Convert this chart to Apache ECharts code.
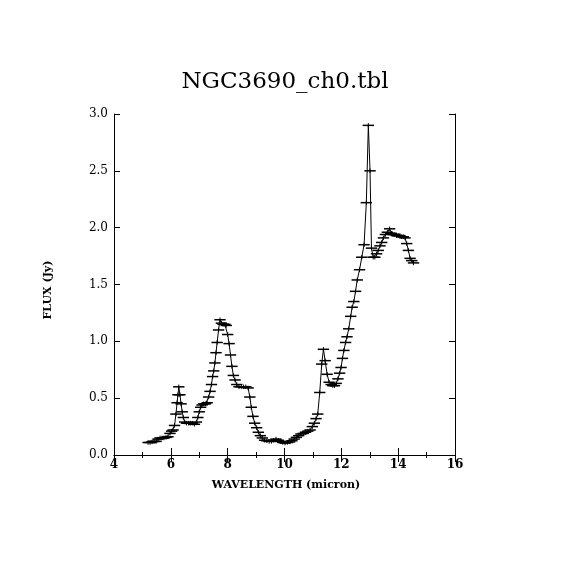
<!DOCTYPE html>
<html>
<head>
<meta charset="utf-8">
<script src="https://cdn.jsdelivr.net/npm/echarts@6/dist/echarts.min.js"></script>
<style>
html,body{margin:0;padding:0;background:#fff;}
#chart{width:570px;height:570px;}
</style>
</head>
<body>
<div id="chart"></div>
<script>
// ---- data ----
var titleText = "NGC3690_ch0.tbl";
var xAxisTitle = "WAVELENGTH (micron)";
var yAxisTitle = "FLUX (Jy)";
var wavelength = [
5.20,5.27,5.34,5.41,5.48,5.55,5.62,5.69,5.76,5.83,5.90,5.97,6.03,6.08,6.13,6.18,6.22,6.25,6.28,6.32,
6.36,6.40,6.44,6.49,6.55,6.62,6.69,6.76,6.83,6.90,6.95,7.00,7.05,7.10,7.16,7.22,7.28,7.33,7.38,7.43,
7.47,7.51,7.55,7.59,7.63,7.68,7.73,7.78,7.84,7.90,7.95,8.00,8.05,8.10,8.15,8.20,8.26,8.32,8.40,8.48,
8.56,8.64,8.72,8.78,8.83,8.89,8.95,9.02,9.08,9.15,9.22,9.30,9.38,9.46,9.54,9.62,9.70,9.78,9.86,9.94,
10.02,10.10,10.18,10.26,10.34,10.42,10.50,10.58,10.66,10.74,10.82,10.90,10.98,11.05,11.11,11.17,11.24,11.31,11.37,11.43,
11.50,11.57,11.64,11.70,11.76,11.82,11.88,11.94,11.99,12.04,12.09,12.15,12.20,12.26,12.33,12.38,12.44,12.50,12.56,12.64,
12.72,12.80,12.88,12.95,13.01,13.06,13.12,13.18,13.24,13.30,13.36,13.42,13.48,13.55,13.62,13.70,13.76,13.82,13.88,13.94,
14.00,14.06,14.12,14.18,14.24,14.30,14.36,14.42,14.48,14.54
];
var flux = [
0.11,0.11,0.115,0.12,0.12,0.14,0.15,0.15,0.15,0.155,0.16,0.19,0.21,0.22,0.26,0.36,0.46,0.53,0.60,0.53,
0.45,0.38,0.33,0.29,0.28,0.28,0.28,0.28,0.27,0.29,0.33,0.38,0.42,0.44,0.45,0.45,0.46,0.51,0.56,0.62,
0.69,0.74,0.81,0.90,0.99,1.10,1.19,1.16,1.15,1.15,1.14,1.06,0.98,0.88,0.78,0.70,0.66,0.62,0.60,0.60,
0.60,0.60,0.59,0.51,0.42,0.34,0.28,0.24,0.20,0.17,0.15,0.13,0.125,0.12,0.12,0.13,0.14,0.13,0.12,0.11,
0.105,0.11,0.115,0.125,0.14,0.155,0.17,0.185,0.19,0.20,0.21,0.22,0.25,0.28,0.32,0.36,0.55,0.80,0.93,0.83,
0.71,0.64,0.62,0.61,0.61,0.63,0.67,0.72,0.77,0.85,0.92,0.99,1.04,1.11,1.22,1.30,1.35,1.44,1.54,1.63,
1.74,1.85,2.22,2.90,2.50,1.82,1.74,1.74,1.77,1.80,1.84,1.87,1.91,1.94,1.96,1.99,1.95,1.94,1.94,1.93,
1.93,1.93,1.92,1.92,1.91,1.86,1.80,1.73,1.71,1.69
];
var binHalfWidth = 0.2;    // half width of the horizontal bars (micron)
var fluxErr = 0.02;        // vertical error (Jy)
var xTicks = [4,6,8,10,12,14,16];
var yTicks = [0.0,0.5,1.0,1.5,2.0,2.5,3.0];

// ---- chart ----
var pts = wavelength.map(function(w,i){ return [w, flux[i]]; });
var serif = "DejaVu Serif";
var chart = echarts.init(document.getElementById('chart'), null, {renderer:'canvas'});
var axisLine = {show:true, lineStyle:{color:'#000', width:1}};
var option = {
  backgroundColor:'#fff',
  animation:false,
  grid:{left:114, top:114, width:341, height:341, containLabel:false},
  graphic:[
    {type:'text', x:285, y:82, style:{text:titleText, font:'23px "DejaVu Serif"', fill:'#000', textAlign:'center', textVerticalAlign:'middle'}},
    {type:'text', x:286, y:485, style:{text:xAxisTitle, font:'bold 11px "DejaVu Serif"', fill:'#000', textAlign:'center', textVerticalAlign:'middle'}},
    {type:'text', x:48, y:290, rotation:Math.PI/2, style:{text:yAxisTitle, font:'bold 11px "DejaVu Serif"', fill:'#000', textAlign:'center', textVerticalAlign:'middle'}}
  ],
  xAxis:[
    {type:'value', min:xTicks[0], max:xTicks[xTicks.length-1], interval:2, position:'bottom',
     axisLine:axisLine,
     axisTick:{show:true, inside:true, length:7, lineStyle:{color:'#000'}},
     minorTick:{show:true, splitNumber:2, length:3, lineStyle:{color:'#000'}},
     splitLine:{show:false},
     axisLabel:{show:true, margin:4, color:'#000', fontFamily:serif, fontSize:12, fontWeight:'bold'}},
    {type:'value', min:xTicks[0], max:xTicks[xTicks.length-1], interval:2, position:'top',
     axisLine:axisLine,
     axisTick:{show:true, inside:true, length:7, lineStyle:{color:'#000'}},
     minorTick:{show:true, splitNumber:2, length:3, lineStyle:{color:'#000'}},
     splitLine:{show:false}, axisLabel:{show:false}}
  ],
  yAxis:[
    {type:'value', min:yTicks[0], max:yTicks[yTicks.length-1], interval:0.5, position:'left',
     axisLine:axisLine,
     axisTick:{show:true, inside:true, length:6, lineStyle:{color:'#000'}},
     splitLine:{show:false},
     axisLabel:{show:true, margin:6, color:'#000', fontFamily:serif, fontSize:12,
       formatter:function(v){return v.toFixed(1);}}},
    {type:'value', min:yTicks[0], max:yTicks[yTicks.length-1], interval:0.5, position:'right',
     axisLine:axisLine,
     axisTick:{show:true, inside:true, length:6, lineStyle:{color:'#000'}},
     splitLine:{show:false}, axisLabel:{show:false}}
  ],
  series:[
    {type:'line', data:pts, xAxisIndex:0, yAxisIndex:0, symbol:'none',
     lineStyle:{color:'#000', width:1}, silent:true},
    {type:'custom', data:pts, xAxisIndex:0, yAxisIndex:0, silent:true,
     renderItem:function(params, api){
       var x = api.value(0), y = api.value(1);
       var l = api.coord([x-binHalfWidth, y]);
       var r = api.coord([x+binHalfWidth, y]);
       var t = api.coord([x, y+fluxErr]);
       var b = api.coord([x, y-fluxErr]);
       return {type:'group', children:[
         {type:'line', shape:{x1:l[0], y1:l[1], x2:r[0], y2:r[1]}, style:{stroke:'#000', lineWidth:1.5}},
         {type:'line', shape:{x1:t[0], y1:t[1], x2:b[0], y2:b[1]}, style:{stroke:'#000', lineWidth:1}}
       ]};
     }}
  ]
};
chart.setOption(option);
</script>
</body>
</html>
